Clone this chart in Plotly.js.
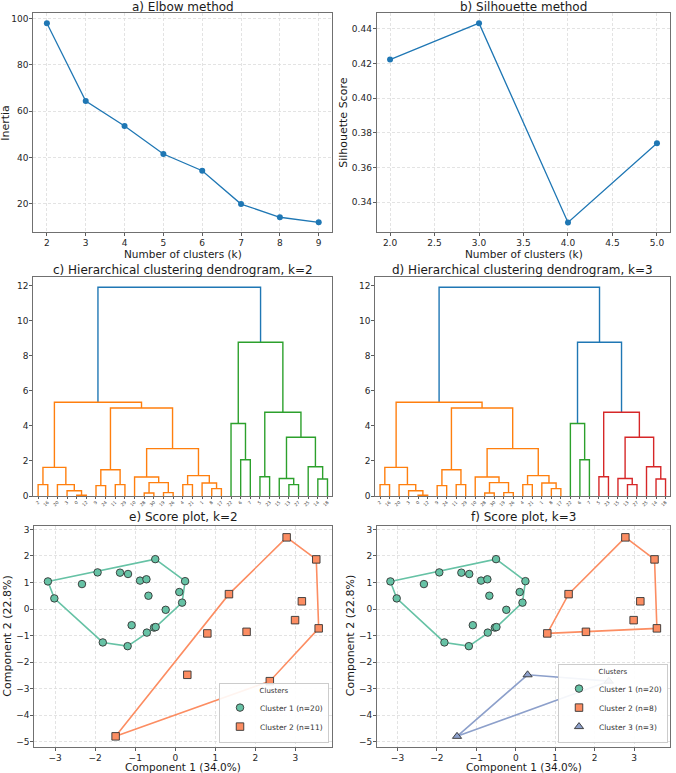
<!DOCTYPE html>
<html><head><meta charset="utf-8">
<script src="https://cdn.plot.ly/plotly-3.0.1.min.js"></script>
<style>html,body{margin:0;padding:0;background:#fff}#chart{width:676px;height:773px}</style>
</head><body><div id="chart"></div>
<script>
// ---------- data ----------
const elbowK = [2, 3, 4, 5, 6, 7, 8, 9];
const elbowInertia = [98.0, 64.4, 53.6, 41.5, 34.3, 19.9, 14.2, 12.0];

const silK = [2, 3, 4, 5];
const silScore = [0.4223, 0.4433, 0.3284, 0.3741];

// dendrogram leaves in display order
const leafLabels = ['2','16','20','3','0','12','9','24','11','29','10','28','30','19','26','4','21','1','8','17','22','6','7','5','23','15','13','27','25','14','18'];
// linkage (node ids: leaves 0..30 in display order, merges 31..60)
const mergeLeft   = [4, 3, 2, 0, 34, 6, 8, 36, 11, 13, 39, 10, 15, 18, 17, 43, 42, 38, 35, 21, 20, 23, 26, 25, 29, 28, 54, 52, 51, 49];
const mergeRight  = [5, 31, 32, 1, 33, 7, 9, 37, 12, 14, 40, 41, 16, 19, 44, 45, 46, 47, 48, 22, 50, 24, 27, 53, 30, 55, 56, 57, 58, 59];
const mergeHeight = [0.04, 0.30, 0.65, 0.65, 1.63, 0.59, 0.65, 1.50, 0.17, 0.19, 0.76, 1.08, 0.65, 0.42, 0.74, 1.16, 2.70, 5.02, 5.34, 2.07, 4.13, 1.10, 0.65, 1.00, 0.97, 1.67, 3.35, 4.77, 8.76, 11.90];
const thresholdK2 = 10;
const thresholdK3 = 7;

// PCA scores (31 samples)
const scoreX = [-3.18, -3.02, -2.33, -1.94, -1.38, -1.18, -0.50, -0.88, -0.72, -0.67, 0.245, 0.10, 0.17, -0.24, -1.09, -0.71, -0.53, -0.49, -1.81, -1.19,
                1.34, 2.78, 3.52, 3.16, 2.99, 3.58, 0.80, 1.78, 0.30, 2.36, -1.49];
const scoreY = [1.04, 0.40, 0.94, 1.38, 1.37, 1.32, 1.88, 1.07, 1.12, 0.50, 1.05, 0.64, 0.24, -0.03, -0.61, -0.89, -0.70, -0.68, -1.26, -1.40,
                0.56, 2.70, 1.87, 0.29, -0.42, -0.73, -0.92, -0.86, -2.48, -2.72, -4.80];
const clusterK2 = [1,1,1,1,1,1,1,1,1,1,1,1,1,1,1,1,1,1,1,1, 2,2,2,2,2,2,2,2,2,2,2];
const clusterK3 = [1,1,1,1,1,1,1,1,1,1,1,1,1,1,1,1,1,1,1,1, 2,2,2,2,2,2,2,2,3,3,3];

// ---------- style ----------
const FONT = 'DejaVu Sans, Liberation Sans, sans-serif';
const W = 676, H = 773;
const px = p => p / W;
const py = p => 1 - p / H;
const clusterColors = ['#66c2a5', '#fc8d62', '#8da0cb'];
const clusterSymbols = ['circle', 'square', 'triangle-up'];
const dendroPalette = ['#ff7f0e', '#2ca02c', '#d62728'];
const dendroAbove = '#1f77b4';

const traces = [];

// a) elbow
traces.push({x: elbowK, y: elbowInertia, xaxis: 'x', yaxis: 'y', mode: 'lines+markers',
  line: {color: '#1f77b4', width: 1.3}, marker: {color: '#1f77b4', size: 6}, showlegend: false});
// b) silhouette
traces.push({x: silK, y: silScore, xaxis: 'x2', yaxis: 'y2', mode: 'lines+markers',
  line: {color: '#1f77b4', width: 1.3}, marker: {color: '#1f77b4', size: 6}, showlegend: false});

// dendrograms
function buildDendro(threshold, xa, ya) {
  const n = leafLabels.length;
  const nodeX = [], nodeH = [];
  for (let i = 0; i < n; i++) { nodeX.push(5 + 10 * i); nodeH.push(0); }
  for (let m = 0; m < mergeLeft.length; m++) {
    nodeX.push((nodeX[mergeLeft[m]] + nodeX[mergeRight[m]]) / 2);
    nodeH.push(mergeHeight[m]);
  }
  const root = n + mergeLeft.length - 1;
  const segs = {};
  const order = [];
  function addLink(node, color) {
    const m = node - n, a = mergeLeft[m], b = mergeRight[m];
    if (!segs[color]) { segs[color] = {x: [], y: []}; order.push(color); }
    segs[color].x.push(nodeX[a], nodeX[a], nodeX[b], nodeX[b], null);
    segs[color].y.push(nodeH[a], nodeH[node], nodeH[node], nodeH[b], null);
  }
  let ci = 0;
  function colorSub(node, color) {
    if (node < n) return;
    addLink(node, color);
    colorSub(mergeLeft[node - n], color);
    colorSub(mergeRight[node - n], color);
  }
  function walk(node) {
    if (node < n) return;
    if (nodeH[node] < threshold) { colorSub(node, dendroPalette[ci++]); }
    else {
      addLink(node, dendroAbove);
      walk(mergeLeft[node - n]);
      walk(mergeRight[node - n]);
    }
  }
  walk(root);
  order.forEach(c => traces.push({x: segs[c].x, y: segs[c].y, xaxis: xa, yaxis: ya, mode: 'lines',
    line: {color: c, width: 1.4}, showlegend: false, hoverinfo: 'skip'}));
  return nodeX.slice(0, n);
}
const leafPosK2 = buildDendro(thresholdK2, 'x3', 'y3');
const leafPosK3 = buildDendro(thresholdK3, 'x4', 'y4');

// convex hull (monotone chain)
function hull(pts) {
  pts = pts.slice().sort((a, b) => a[0] - b[0] || a[1] - b[1]);
  const cross = (o, a, b) => (a[0]-o[0])*(b[1]-o[1]) - (a[1]-o[1])*(b[0]-o[0]);
  const lower = [], upper = [];
  for (const p of pts) { while (lower.length >= 2 && cross(lower[lower.length-2], lower[lower.length-1], p) <= 0) lower.pop(); lower.push(p); }
  for (let i = pts.length - 1; i >= 0; i--) { const p = pts[i]; while (upper.length >= 2 && cross(upper[upper.length-2], upper[upper.length-1], p) <= 0) upper.pop(); upper.push(p); }
  upper.pop(); lower.pop();
  const h = lower.concat(upper); h.push(h[0]);
  return h;
}

function scorePlot(labels, xa, ya, legendId) {
  const ks = [...new Set(labels)].sort();
  ks.forEach(k => {
    const pts = [];
    labels.forEach((l, i) => { if (l === k) pts.push([scoreX[i], scoreY[i]]); });
    const h = hull(pts);
    traces.push({x: h.map(p => p[0]), y: h.map(p => p[1]), xaxis: xa, yaxis: ya, mode: 'lines',
      line: {color: clusterColors[k-1], width: 1.6}, showlegend: false, hoverinfo: 'skip', legend: legendId});
  });
  ks.forEach(k => {
    const xs = [], ys = [];
    labels.forEach((l, i) => { if (l === k) { xs.push(scoreX[i]); ys.push(scoreY[i]); } });
    traces.push({x: xs, y: ys, xaxis: xa, yaxis: ya, mode: 'markers', legend: legendId,
      name: 'Cluster ' + k + ' (n=' + xs.length + ')',
      marker: {color: clusterColors[k-1], symbol: clusterSymbols[k-1], size: k === 3 ? 8 : 7.5,
               line: {color: '#333', width: 0.9}}});
  });
}
scorePlot(clusterK2, 'x5', 'y5', 'legend');
scorePlot(clusterK3, 'x6', 'y6', 'legend2');

// ---------- layout ----------
const tickFont = {family: FONT, size: 9, color: '#262626'};
function ax(domain, extra) {
  return Object.assign({domain: domain, showline: true, mirror: true, linecolor: '#707070', linewidth: 1,
    ticks: 'outside', ticklen: 3, tickwidth: 0.8, tickcolor: '#333', tickfont: tickFont, ticklabelstandoff: -1,
    showgrid: true, gridcolor: '#dcdcdc', griddash: '3px,2px', gridwidth: 0.8, zeroline: false,
    automargin: false, fixedrange: true}, extra);
}
const colL = [px(33.3), px(332.3)];
const colR = [px(376.7), px(670.3)];
const row1 = [py(232.3), py(13.3)];
const row2 = [py(496), py(276.7)];
const row3 = [py(746.7), py(525.7)];

const legendBase = {xanchor: 'right', yanchor: 'bottom', bgcolor: 'rgba(255,255,255,0.9)',
    bordercolor: '#cccccc', borderwidth: 1, font: {family: FONT, size: 7.5, color: '#333'},
    title: {text: 'Clusters', side: 'top center', font: {family: FONT, size: 7, color: '#333'}},
    itemwidth: 30, tracegroupgap: 0};

const layout = {
  width: W, height: H, margin: {l: 0, r: 0, t: 0, b: 0}, paper_bgcolor: '#fff', plot_bgcolor: '#fff',
  font: {family: FONT, color: '#262626'},
  xaxis:  ax(colL, {anchor: 'y',  range: [1.65, 9.35], tickmode: 'linear', tick0: 2, dtick: 1}),
  yaxis:  ax(row1, {anchor: 'x',  range: [7.7, 102.3], tickmode: 'linear', tick0: 20, dtick: 20}),
  xaxis2: ax(colR, {anchor: 'y2', range: [1.85, 5.15], tickmode: 'linear', tick0: 2, dtick: 0.5, tickformat: '.1f'}),
  yaxis2: ax(row1, {anchor: 'x2', range: [0.3227, 0.4490], tickmode: 'linear', tick0: 0.34, dtick: 0.02, tickformat: '.2f'}),
  xaxis3: ax(colL, {anchor: 'y3', range: [0, 310], showgrid: false, tickmode: 'array', tickvals: leafPosK2, ticktext: leafLabels,
                    tickangle: -45, tickfont: {family: FONT, size: 4.5, color: '#444'}, ticklen: 2}),
  yaxis3: ax(row2, {anchor: 'x3', range: [0, 12.5], showgrid: false, tickmode: 'linear', tick0: 0, dtick: 2}),
  xaxis4: ax([px(375.3), px(670.3)], {anchor: 'y4', range: [0, 310], showgrid: false, tickmode: 'array', tickvals: leafPosK3, ticktext: leafLabels,
                    tickangle: -45, tickfont: {family: FONT, size: 4.5, color: '#444'}, ticklen: 2}),
  yaxis4: ax(row2, {anchor: 'x4', range: [0, 12.5], showgrid: false, tickmode: 'linear', tick0: 0, dtick: 2}),
  xaxis5: ax([px(34.3), px(332.3)], {anchor: 'y5', range: [-3.52, 3.92], tickmode: 'linear', tick0: 0, dtick: 1}),
  yaxis5: ax(row3, {anchor: 'x5', range: [-5.19, 3.14], tickmode: 'linear', tick0: 0, dtick: 1}),
  xaxis6: ax([px(377), px(670.3)], {anchor: 'y6', range: [-3.52, 3.92], tickmode: 'linear', tick0: 0, dtick: 1}),
  yaxis6: ax(row3, {anchor: 'x6', range: [-5.19, 3.14], tickmode: 'linear', tick0: 0, dtick: 1}),
  legend:  Object.assign({x: px(329), y: py(743)}, legendBase),
  legend2: Object.assign({x: px(668), y: py(743)}, legendBase),
  annotations: []
};

function ann(text, x, y, size, rot) {
  layout.annotations.push({text: text, xref: 'paper', yref: 'paper', x: px(x), y: py(y), xanchor: 'center', yanchor: 'middle',
    showarrow: false, textangle: rot || 0, font: {family: FONT, size: size, color: '#1a1a1a'}});
}
// subplot titles
ann('a) Elbow method', 182.8, 6.5, 12);
ann('b) Silhouette method', 523.5, 6.5, 12);
ann('c) Hierarchical clustering dendrogram, k=2', 182.8, 269.5, 12);
ann('d) Hierarchical clustering dendrogram, k=3', 522.8, 269.5, 12);
ann('e) Score plot, k=2', 183.3, 517, 12);
ann('f) Score plot, k=3', 523.6, 517, 12);
// axis titles
ann('Number of clusters (k)', 182.8, 254.5, 10.5);
ann('Number of clusters (k)', 523.5, 254.5, 10.5);
ann('Inertia', 6, 122.8, 11, -90);
ann('Silhouette Score', 344, 122.8, 11, -90);
ann('Component 1 (34.0%)', 183.3, 767, 10.5);
ann('Component 1 (34.0%)', 523.6, 767, 10.5);
ann('Component 2 (22.8%)', 7.5, 636.2, 11, -90);
ann('Component 2 (22.8%)', 350, 636.2, 11, -90);

Plotly.newPlot('chart', traces, layout, {displayModeBar: false, staticPlot: true});
</script>
</body></html>
